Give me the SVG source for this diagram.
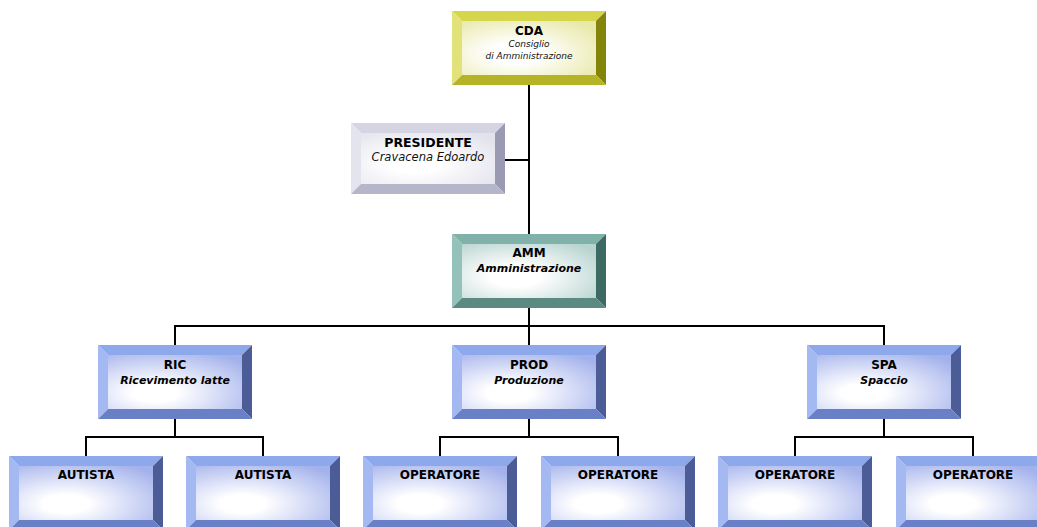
<svg xmlns="http://www.w3.org/2000/svg" xmlns:xlink="http://www.w3.org/1999/xlink" width="1037" height="527" viewBox="0 0 1037 527">
<style>
.t{font-family:"DejaVu Sans",Verdana,sans-serif;font-weight:bold;font-size:12px;fill:#000;text-anchor:middle}
.s{font-family:"DejaVu Sans",Verdana,sans-serif;font-weight:bold;font-style:italic;font-size:11px;fill:#000;text-anchor:middle}
.i{font-family:"DejaVu Sans",Verdana,sans-serif;font-style:italic;font-size:11.5px;fill:#111;text-anchor:middle}
.c{font-family:"DejaVu Sans",Verdana,sans-serif;font-style:italic;font-size:9px;fill:#111;text-anchor:middle}
.ln{stroke:#000;stroke-width:2;fill:none}
</style>
<defs>
<radialGradient id="gY" cx="0.4" cy="0.6" r="0.75"><stop offset="0.25" stop-color="#ffffff"/><stop offset="1" stop-color="#e8e8a8"/></radialGradient>
<radialGradient id="gP" cx="0.4" cy="0.6" r="0.75"><stop offset="0.25" stop-color="#ffffff"/><stop offset="1" stop-color="#e2e2ec"/></radialGradient>
<radialGradient id="gT" cx="0.4" cy="0.6" r="0.75"><stop offset="0.25" stop-color="#ffffff"/><stop offset="1" stop-color="#b8d4d0"/></radialGradient>
<radialGradient id="gB" cx="0.35" cy="0.7" r="0.85"><stop offset="0.2" stop-color="#ffffff"/><stop offset="1" stop-color="#a4b2ec"/></radialGradient>
<g id="bY">
<polygon points="0,0 154,0 144,10 10,10" fill="#d6d64c"/>
<polygon points="0,0 10,10 10,64 0,74" fill="#e2e27a"/>
<polygon points="154,0 154,74 144,64 144,10" fill="#84840a"/>
<polygon points="0,74 154,74 144,64 10,64" fill="#b4b426"/>
<rect x="10" y="10" width="134" height="54" fill="url(#gY)"/>
</g>
<g id="bP">
<polygon points="0,0 154,0 144,10 10,10" fill="#d4d4e2"/>
<polygon points="0,0 10,10 10,61 0,71" fill="#e4e4ee"/>
<polygon points="154,0 154,71 144,61 144,10" fill="#9a9ab2"/>
<polygon points="0,71 154,71 144,61 10,61" fill="#b6b6ca"/>
<rect x="10" y="10" width="134" height="51" fill="url(#gP)"/>
</g>
<g id="bT">
<polygon points="0,0 154,0 144,10 10,10" fill="#80b2aa"/>
<polygon points="0,0 10,10 10,64 0,74" fill="#94c2ba"/>
<polygon points="154,0 154,74 144,64 144,10" fill="#3e6a64"/>
<polygon points="0,74 154,74 144,64 10,64" fill="#5a8a82"/>
<rect x="10" y="10" width="134" height="54" fill="url(#gT)"/>
</g>
<g id="bB">
<polygon points="0,0 154,0 144,10 10,10" fill="#8ea8ec"/>
<polygon points="0,0 10,10 10,64 0,74" fill="#a4b8f2"/>
<polygon points="154,0 154,74 144,64 144,10" fill="#4c5c96"/>
<polygon points="0,74 154,74 144,64 10,64" fill="#6a80c6"/>
<rect x="10" y="10" width="134" height="54" fill="url(#gB)"/>
</g>
</defs>
<rect width="1037" height="527" fill="#fff"/>
<g id="connectors" class="ln">
<line x1="529" y1="85" x2="529" y2="234"/>
<line x1="505" y1="160" x2="529" y2="160"/>
<line x1="529" y1="308" x2="529" y2="345"/>
<polyline points="175,345 175,326 884,326 884,345"/>
<line x1="175" y1="419" x2="175" y2="437"/>
<polyline points="86,456 86,437 263,437 263,456"/>
<line x1="529" y1="419" x2="529" y2="437"/>
<polyline points="440,456 440,437 618,437 618,456"/>
<line x1="884" y1="419" x2="884" y2="437"/>
<polyline points="795,456 795,437 973,437 973,456"/>
</g>
<g id="cda"><use xlink:href="#bY" x="452" y="11"/><text class="t" x="529" y="35">CDA</text><text class="c" x="529" y="47">Consiglio</text><text class="c" x="529" y="59">di Amministrazione</text></g>
<g id="presidente"><use xlink:href="#bP" x="351" y="123"/><text class="t" x="428" y="147" style="font-size:12.5px">PRESIDENTE</text><text class="i" x="428" y="161">Cravacena Edoardo</text></g>
<g id="amm"><use xlink:href="#bT" x="452" y="234"/><text class="t" x="529" y="257">AMM</text><text class="s" x="529" y="272">Amministrazione</text></g>
<g id="ric"><use xlink:href="#bB" x="98" y="345"/><text class="t" x="175" y="369">RIC</text><text class="s" x="175" y="384">Ricevimento latte</text></g>
<g id="prod"><use xlink:href="#bB" x="452" y="345"/><text class="t" x="529" y="369">PROD</text><text class="s" x="529" y="384">Produzione</text></g>
<g id="spa"><use xlink:href="#bB" x="807" y="345"/><text class="t" x="884" y="369">SPA</text><text class="s" x="884" y="384">Spaccio</text></g>
<g id="autista1"><use xlink:href="#bB" x="9" y="456"/><text class="t" x="86" y="479">AUTISTA</text></g>
<g id="autista2"><use xlink:href="#bB" x="186" y="456"/><text class="t" x="263" y="479">AUTISTA</text></g>
<g id="operatore1"><use xlink:href="#bB" x="363" y="456"/><text class="t" x="440" y="479">OPERATORE</text></g>
<g id="operatore2"><use xlink:href="#bB" x="541" y="456"/><text class="t" x="618" y="479">OPERATORE</text></g>
<g id="operatore3"><use xlink:href="#bB" x="718" y="456"/><text class="t" x="795" y="479">OPERATORE</text></g>
<g id="operatore4"><use xlink:href="#bB" x="896" y="456"/><text class="t" x="973" y="479">OPERATORE</text></g>
</svg>
